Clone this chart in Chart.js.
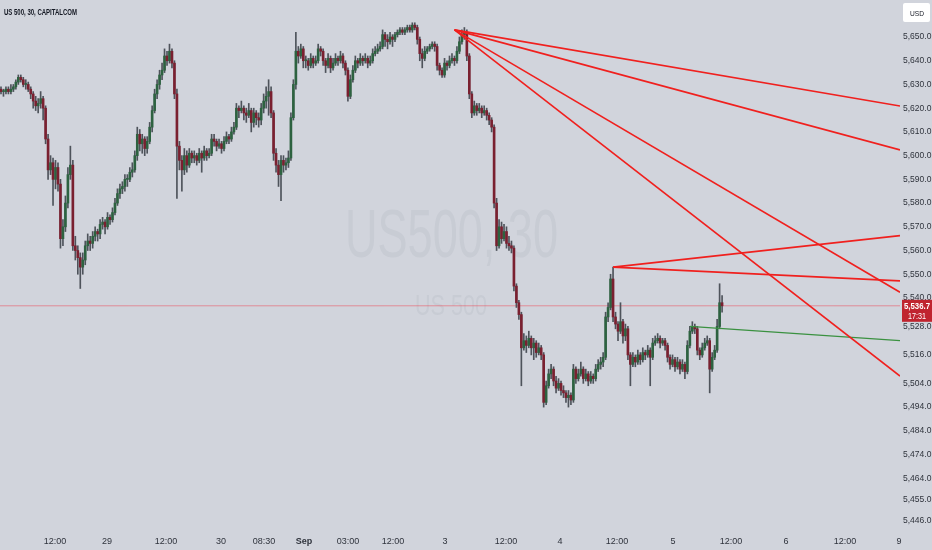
<!DOCTYPE html>
<html>
<head>
<meta charset="utf-8">
<script src="https://cdn.jsdelivr.net/npm/chart.js@4.4.1/dist/chart.umd.min.js"></script>
<style>
html, body { margin: 0; padding: 0; background: #d1d4dc; }
#wrap { width: 932px; height: 550px; }
</style>
</head>
<body>
<div id="wrap"><canvas id="chart" width="932" height="550"></canvas></div>
<script>
// US 500, 30 min candles (bar index 0 = first bar on screen)
var opens = [
 5628,5627,5627,5628,5627,5628,5629,5631,5633,5632,
 5630,5630,5628,5626,5623,5621,5622,5624,5620,5607,
 5594,5597,5590,5595,5588,5565,5570,5580,5592,5596,
 5562,5560,5557,5553,5556,5562,5564,5563,5566,5568,
 5567,5571,5572,5570,5574,5573,5576,5580,5584,5586,
 5587,5590,5590,5593,5594,5600,5609,5605,5607,5603,
 5606,5612,5619,5626,5630,5634,5636,5642,5640,5644,
 5639,5626,5604,5598,5594,5600,5596,5601,5599,5600,
 5598,5601,5599,5602,5600,5601,5607,5606,5604,5605,
 5603,5606,5608,5607,5610,5612,5620,5619,5620,5618,
 5617,5619,5614,5618,5616,5615,5620,5623,5625,5627,
 5618,5601,5596,5592,5598,5596,5597,5599,5616,5630,
 5644,5642,5645,5640,5640,5638,5641,5639,5640,5645,
 5644,5640,5638,5641,5637,5639,5641,5640,5642,5639,
 5636,5625,5632,5636,5640,5639,5641,5640,5641,5639,
 5640,5643,5644,5645,5646,5651,5649,5648,5650,5649,
 5651,5652,5653,5652,5653,5654,5653,5655,5654,5649,
 5643,5641,5644,5645,5646,5647,5646,5638,5636,5634,
 5639,5638,5640,5641,5640,5644,5648,5651,5652,5642,
 5626,5618,5621,5619,5620,5618,5619,5617,5615,5612,
 5580,5562,5570,5565,5568,5563,5562,5561,5545,5538,
 5533,5519,5522,5520,5523,5519,5521,5517,5519,5516,
 5496,5503,5508,5510,5505,5502,5504,5501,5500,5498,
 5499,5497,5510,5506,5508,5510,5506,5508,5505,5507,
 5506,5510,5512,5513,5515,5532,5536,5548,5532,5529,
 5526,5530,5524,5527,5516,5512,5515,5513,5516,5514,
 5517,5516,5518,5515,5521,5522,5523,5521,5522,5520,
 5515,5512,5514,5511,5513,5510,5512,5509,5520,5526,
 5528,5527,5518,5516,5519,5521,5522,5510,5515,5518,
 5528,5538
];
var highs = [
 5629,5628,5629,5629,5630,5630,5632,5634,5634,5633,
 5632,5631,5629,5627,5625,5624,5627,5625,5621,5609,
 5600,5599,5598,5597,5590,5573,5583,5595,5604,5598,
 5566,5562,5559,5559,5564,5567,5566,5568,5570,5569,
 5573,5574,5573,5576,5575,5578,5582,5586,5588,5589,
 5592,5592,5595,5597,5602,5612,5611,5609,5608,5608,
 5614,5621,5628,5632,5636,5639,5645,5644,5647,5645,
 5640,5628,5606,5600,5603,5602,5603,5602,5602,5601,
 5603,5602,5604,5603,5603,5609,5609,5607,5607,5606,
 5608,5610,5609,5612,5614,5622,5621,5623,5621,5620,
 5622,5620,5620,5619,5618,5622,5626,5629,5632,5629,
 5619,5603,5598,5600,5600,5599,5602,5618,5632,5652,
 5646,5647,5646,5642,5641,5643,5642,5642,5647,5646,
 5645,5641,5643,5642,5641,5643,5642,5644,5643,5640,
 5637,5634,5638,5642,5641,5643,5642,5643,5642,5642,
 5645,5646,5647,5648,5653,5652,5651,5652,5651,5652,
 5653,5654,5654,5654,5655,5655,5656,5656,5655,5650,
 5645,5646,5646,5647,5648,5648,5647,5639,5637,5641,
 5640,5642,5643,5642,5646,5650,5653,5654,5653,5643,
 5627,5623,5622,5622,5621,5621,5620,5618,5616,5613,
 5582,5573,5572,5571,5570,5566,5564,5562,5546,5539,
 5534,5525,5524,5526,5524,5523,5522,5521,5520,5517,
 5505,5510,5512,5511,5507,5506,5505,5503,5501,5501,
 5500,5512,5511,5510,5513,5511,5510,5509,5509,5508,
 5512,5514,5515,5517,5534,5538,5550,5553,5534,5530,
 5538,5531,5529,5528,5517,5517,5516,5518,5517,5519,
 5518,5520,5519,5523,5524,5525,5524,5523,5523,5521,
 5516,5516,5515,5515,5514,5514,5513,5522,5528,5530,
 5529,5528,5519,5521,5523,5524,5523,5517,5520,5531,
 5546,5541
];
var lows = [
 5626,5625,5626,5626,5626,5627,5628,5630,5631,5629,
 5628,5627,5624,5620,5619,5618,5620,5615,5605,5590,
 5592,5579,5586,5585,5561,5562,5568,5578,5590,5560,
 5556,5550,5544,5550,5554,5560,5560,5561,5564,5564,
 5565,5569,5567,5569,5571,5572,5575,5579,5582,5584,
 5585,5587,5589,5591,5593,5598,5602,5601,5600,5601,
 5605,5610,5618,5624,5628,5632,5635,5638,5639,5637,
 5624,5582,5594,5585,5592,5593,5595,5597,5597,5596,
 5597,5593,5598,5598,5599,5600,5604,5602,5603,5601,
 5602,5605,5605,5606,5609,5611,5616,5618,5615,5614,
 5616,5610,5612,5613,5612,5613,5618,5620,5617,5616,
 5598,5593,5587,5581,5593,5594,5595,5598,5615,5628,
 5639,5641,5637,5637,5636,5637,5637,5638,5639,5642,
 5638,5635,5637,5635,5636,5638,5638,5639,5637,5634,
 5623,5624,5631,5635,5637,5638,5638,5639,5637,5638,
 5639,5642,5643,5644,5645,5646,5645,5647,5646,5648,
 5650,5651,5651,5651,5652,5652,5652,5653,5647,5640,
 5637,5640,5643,5644,5645,5644,5636,5634,5633,5633,
 5636,5637,5639,5638,5639,5643,5647,5649,5640,5624,
 5616,5617,5617,5618,5616,5617,5615,5613,5610,5578,
 5560,5561,5563,5564,5561,5560,5559,5543,5536,5531,
 5503,5518,5517,5519,5516,5514,5515,5516,5514,5494,
 5495,5502,5506,5503,5500,5501,5499,5498,5496,5494,
 5495,5496,5504,5505,5507,5504,5505,5503,5504,5504,
 5505,5509,5510,5511,5514,5530,5535,5530,5527,5522,
 5525,5521,5522,5514,5503,5511,5511,5512,5512,5513,
 5514,5515,5503,5514,5520,5521,5519,5520,5518,5513,
 5510,5511,5509,5510,5508,5509,5506,5508,5519,5525,
 5525,5516,5514,5515,5518,5520,5500,5509,5514,5517,
 5527,5534
];
var closes = [
 5627,5627,5628,5627,5628,5629,5631,5633,5632,5630,
 5630,5628,5626,5623,5621,5622,5624,5620,5607,5594,
 5597,5590,5595,5588,5565,5570,5580,5592,5596,5562,
 5560,5557,5553,5556,5562,5564,5563,5566,5568,5567,
 5571,5572,5570,5574,5573,5576,5580,5584,5586,5587,
 5590,5590,5593,5594,5600,5609,5605,5607,5603,5606,
 5612,5619,5626,5630,5634,5636,5642,5640,5644,5639,
 5626,5604,5598,5594,5600,5596,5601,5599,5600,5598,
 5601,5599,5602,5600,5601,5607,5606,5604,5605,5603,
 5606,5608,5607,5610,5612,5620,5619,5620,5618,5617,
 5619,5614,5618,5616,5615,5620,5623,5625,5627,5618,
 5601,5596,5592,5598,5596,5597,5599,5616,5630,5644,
 5642,5645,5640,5640,5638,5641,5639,5640,5645,5644,
 5640,5638,5641,5637,5639,5641,5640,5642,5639,5636,
 5625,5632,5636,5640,5639,5641,5640,5641,5639,5640,
 5643,5644,5645,5646,5651,5649,5648,5650,5649,5651,
 5652,5653,5652,5653,5654,5653,5655,5654,5649,5643,
 5641,5644,5645,5646,5647,5646,5638,5636,5634,5639,
 5638,5640,5641,5640,5644,5648,5651,5652,5642,5626,
 5618,5621,5619,5620,5618,5619,5617,5615,5612,5580,
 5562,5570,5565,5568,5563,5562,5561,5545,5538,5533,
 5519,5522,5520,5523,5519,5521,5517,5519,5516,5496,
 5503,5508,5510,5505,5502,5504,5501,5500,5498,5499,
 5497,5510,5506,5508,5510,5506,5508,5505,5507,5506,
 5510,5512,5513,5515,5532,5536,5548,5532,5529,5526,
 5530,5524,5527,5516,5512,5515,5513,5516,5514,5517,
 5516,5518,5515,5521,5522,5523,5521,5522,5520,5515,
 5512,5514,5511,5513,5510,5512,5509,5520,5526,5528,
 5527,5518,5516,5519,5521,5522,5510,5515,5518,5528,
 5538,5536.7
];

// time axis labels, placed at bar index
var xTickPos = [21.8, 42.8, 66.6, 88.8, 106.1, 122.3, 140, 158.2, 179.2, 203.8, 225.6, 248.6, 271.2, 294.6, 316.8, 340.6, 362.4];
var xTickLabels = ['12:00', '29', '12:00', '30', '08:30', 'Sep', '03:00', '12:00', '3', '12:00', '4', '12:00', '5', '12:00', '6', '12:00', '9'];
var yTicks = [5650, 5640, 5630, 5620, 5610, 5600, 5590, 5580, 5570, 5560, 5550, 5540, 5528, 5516, 5504, 5494, 5484, 5474, 5464, 5455, 5446];

// drawn trend lines: [bar, price] anchors
var fanStart = [183, 5653];
var fanEnds = [5620.9, 5602.4, 5542.4, 5507.1];
var fan2Start = [247, 5553];
var fan2Ends = [5566.3, 5547.2];
var greenStart = [278, 5528];
var greenEnd = 5522.0;

var xMin = -0.4, xMax = 362.8;
var yMin = 5442.2, yMax = 5665.6;
var lastPrice = closes[closes.length - 1];
var lastTime = '17:31';

var fam = "'Liberation Sans', Arial, sans-serif";
var bgColor = '#d1d4dc';
var upColor = '#2d6240';
var downColor = '#7a2030';
var wickColor = '#4e535b';
var textColor = '#2f333c';

var bodyData = [], wickData = [], bodyColors = [];
for (var i = 0; i < closes.length; i++) {
    bodyData.push({x: i, y: [opens[i], closes[i]]});
    wickData.push({x: i, y: [lows[i], highs[i]]});
    bodyColors.push(closes[i] >= opens[i] ? upColor : downColor);
}

function trendLine(from, toY, color, width) {
    return {
        type: 'line',
        data: [{x: from[0], y: from[1]}, {x: xMax, y: toY}],
        borderColor: color,
        borderWidth: width,
        pointRadius: 0,
        tension: 0,
        order: 0
    };
}

var datasets = [
    {type: 'bar', data: wickData, backgroundColor: wickColor, barThickness: 1, grouped: false, order: 3},
    {type: 'bar', data: bodyData, backgroundColor: bodyColors, barThickness: 2, minBarLength: 1, grouped: false, order: 2},
    {type: 'line', data: [{x: xMin, y: lastPrice}, {x: xMax, y: lastPrice}], borderColor: 'rgba(242,54,69,0.45)', borderWidth: 1, pointRadius: 0, order: 5}
];
fanEnds.forEach(function(p) { datasets.push(trendLine(fanStart, p, '#f0201e', 1.6)); });
fan2Ends.forEach(function(p) { datasets.push(trendLine(fan2Start, p, '#f0201e', 1.6)); });
datasets.push(trendLine(greenStart, greenEnd, '#3a9140', 1.3));

function fitText(c, txt, font, x, y, w) {
    c.save();
    c.font = font;
    var m = c.measureText(txt).width;
    c.translate(x, y);
    c.scale(w / m, 1);
    c.textAlign = 'left';
    c.textBaseline = 'alphabetic';
    c.fillText(txt, 0, 0);
    c.restore();
}

var tvPlugin = {
    id: 'tv',
    beforeDraw: function(chart) {
        var c = chart.ctx, a = chart.chartArea;
        c.save();
        c.fillStyle = bgColor;
        c.fillRect(0, 0, chart.width, chart.height);
        // watermark
        var cx = (a.left + a.right) / 2;
        c.fillStyle = 'rgba(90,95,110,0.07)';
        fitText(c, 'US500, 30', '69px ' + fam, cx - 105, 257, 213);
        fitText(c, 'US 500', '30px ' + fam, cx - 35, 315, 72);
        c.restore();
    },
    afterDraw: function(chart) {
        var c = chart.ctx, a = chart.chartArea;
        c.save();
        // title
        c.fillStyle = '#131722';
        fitText(c, 'US 500, 30, CAPITALCOM', 'bold 9px ' + fam, 4, 15, 73);
        // currency box
        c.fillStyle = '#ffffff';
        c.beginPath();
        c.roundRect(a.right + 3, 3, 27, 19, 2);
        c.fill();
        c.fillStyle = '#131722';
        fitText(c, 'USD', '8px ' + fam, a.right + 10, 16, 14);
        // last price label
        var py = chart.scales.y.getPixelForValue(lastPrice);
        c.fillStyle = '#c0242f';
        c.fillRect(a.right + 2, py - 6, 30, 22);
        c.fillStyle = '#ffffff';
        fitText(c, lastPrice.toLocaleString('en-US', {minimumFractionDigits: 1}), 'bold 9.5px ' + fam, a.right + 4, py + 3.5, 26);
        fitText(c, lastTime, '9px ' + fam, a.right + 8, py + 13.5, 18);
        c.restore();
    }
};

new Chart(document.getElementById('chart'), {
    type: 'bar',
    data: {datasets: datasets},
    plugins: [tvPlugin],
    options: {
        responsive: false,
        animation: false,
        layout: {padding: 0},
        plugins: {legend: {display: false}, tooltip: {enabled: false}},
        scales: {
            x: {
                type: 'linear',
                min: xMin,
                max: xMax,
                offset: false,
                grid: {display: false, drawTicks: false},
                border: {display: false},
                afterBuildTicks: function(s) { s.ticks = xTickPos.map(function(v) { return {value: v}; }); },
                afterFit: function(s) { s.height = 20; s.paddingLeft = 0; s.paddingRight = 0; },
                ticks: {
                    autoSkip: false,
                    maxRotation: 0,
                    padding: 6,
                    color: textColor,
                    font: function(ctx) {
                        return {family: fam, size: 9, weight: xTickLabels[ctx.index] === 'Sep' ? 'bold' : 'normal'};
                    },
                    callback: function(v, idx) { return xTickLabels[idx]; }
                }
            },
            y: {
                position: 'right',
                min: yMin,
                max: yMax,
                grid: {display: false, drawTicks: false},
                border: {display: false},
                afterBuildTicks: function(s) { s.ticks = yTicks.map(function(v) { return {value: v}; }); },
                afterFit: function(s) { s.width = 32; s.paddingTop = 0; s.paddingBottom = 0; },
                ticks: {
                    autoSkip: false,
                    padding: 3,
                    color: textColor,
                    font: {family: fam, size: 8.5},
                    callback: function(v) { return v.toLocaleString('en-US', {minimumFractionDigits: 1, maximumFractionDigits: 1}); }
                }
            }
        }
    }
});
</script>
</body>
</html>
